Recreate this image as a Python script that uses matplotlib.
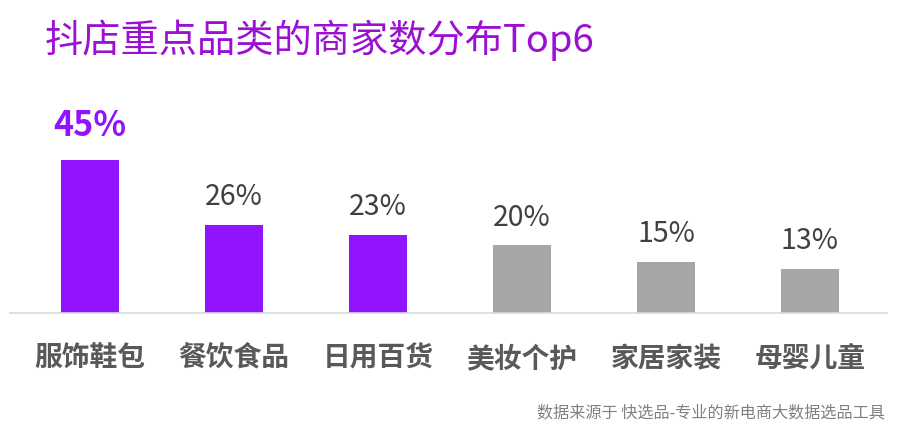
import matplotlib
matplotlib.use("Agg")
import matplotlib.pyplot as plt

plt.rcParams['font.family'] = ['Noto Sans CJK SC', 'DejaVu Sans']

categories = ['服饰鞋包', '餐饮食品', '日用百货', '美妆个护', '家居家装', '母婴儿童']
values = [45, 26, 23, 20, 15, 13]
labels = ['45%', '26%', '23%', '20%', '15%', '13%']
highlight = [True, True, True, False, False, False]

title = '抖店重点品类的商家数分布Top6'
source = '数据来源于 快选品-专业的新电商大数据选品工具'

PURPLE = '#9213FE'
GRAY = '#A6A6A6'

fig = plt.figure(figsize=(8.97, 4.34), dpi=100)
ax = fig.add_axes([10/897, 1-313/434, 877/897, (313-91)/434])
x = list(range(len(categories)))
colors = [PURPLE if h else GRAY for h in highlight]
ax.bar(x, values, width=0.40, color=colors, zorder=2)
ax.set_xlim(-0.555, 5.535)
ax.set_ylim(0, (313-91)/3.4)

for sp in ['top', 'right', 'left']:
    ax.spines[sp].set_visible(False)
ax.spines['bottom'].set_color('#D9D9D9')
ax.spines['bottom'].set_linewidth(1.2)
ax.set_yticks([])
ax.set_xticks(x)
ax.set_xticklabels(categories, fontsize=20, fontweight='bold', color='#595959')
ax.tick_params(axis='x', length=0, pad=23)

for i, (v, lab) in enumerate(zip(values, labels)):
    if i == 0:
        ax.annotate(lab, (i, v), xytext=(0, 12), textcoords='offset points',
                    ha='center', va='bottom', fontsize=24.5, fontweight='bold', color=PURPLE)
    else:
        ax.annotate(lab, (i, v), xytext=(0, 9), textcoords='offset points',
                    ha='center', va='bottom', fontsize=20.5, color='#404040')

fig.text(45/897, 1-40/434, title, fontsize=27.5, color='#9B10D2', ha='left', va='center')
fig.text(885/897, 1-413/434, source, fontsize=11.6, color='#808080', ha='right', va='center')

fig.savefig('out.png', dpi=100, facecolor='white')
